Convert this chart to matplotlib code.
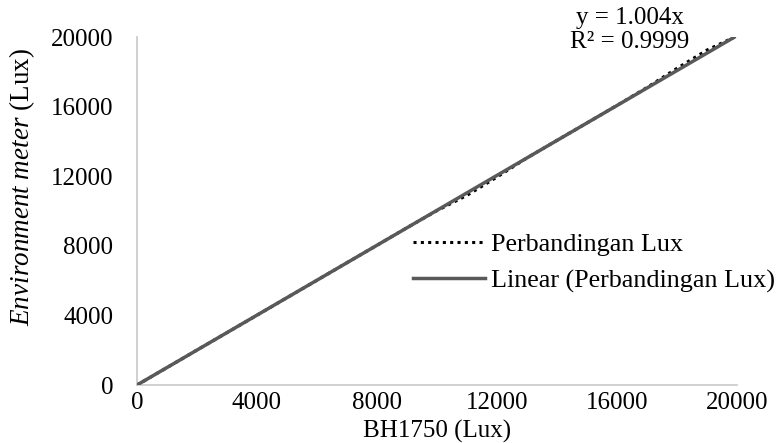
import matplotlib.pyplot as plt
import numpy as np

# measured points (BH1750 vs environment meter), Lux
bh1750 = [0, 1000, 2000, 3000, 4000, 5000, 6000, 7000, 8000, 9000, 10000,
          11000, 12000, 13000, 14000, 15000, 16000, 17000, 18000, 19000, 19900]
env_meter = [0, 1000, 2010, 3010, 4010, 5020, 6020, 7030, 8030, 9040, 10020,
             10900, 11950, 13050, 14060, 15060, 16070, 17100, 18200, 19250, 19980]

slope = 1.004
r2 = 0.9999

plt.rcParams["font.family"] = ["Liberation Serif", "DejaVu Serif"]
plt.rcParams["mathtext.fontset"] = "custom"
plt.rcParams["mathtext.rm"] = "Liberation Serif"
plt.rcParams["mathtext.it"] = "Liberation Serif:italic"
FS = 18

fig = plt.figure(figsize=(7.82, 4.43), dpi=100)
ax = fig.add_axes([137 / 782, (443 - 385) / 443, 600 / 782, 348 / 443])

ax.plot(bh1750, env_meter, color="black", linestyle=(0, (1, 1.4)), linewidth=2.2,
        label="Perbandingan Lux", zorder=2)
xfit = np.array([0, max(bh1750)])
ax.plot(xfit, slope * xfit, color="#595959", linewidth=2.5,
        label="Linear (Perbandingan Lux)", zorder=3)

ax.set_xlim(0, 20000)
ax.set_ylim(0, 20000)
ax.set_xticks(range(0, 20001, 4000))
ax.set_yticks(range(0, 20001, 4000))
ax.tick_params(axis="y", length=0, pad=17, labelsize=FS)
ax.tick_params(axis="x", length=0, pad=5, labelsize=FS)
for s in ["top", "right"]:
    ax.spines[s].set_visible(False)
for s in ["left", "bottom"]:
    ax.spines[s].set_color("#c8c8c8")
    ax.spines[s].set_linewidth(1.2)

ax.set_xlabel("BH1750 (Lux)", fontsize=FS, labelpad=4)
fig.text(22 / 782, (443 - 187) / 443, r"$\it{Environment\ meter}$ (Lux)",
         rotation=90, ha="center", va="center", fontsize=19.5)

fig.text(630 / 782, (443 - 18) / 443, "y = 1.004x", ha="center", va="center",
         fontsize=FS)
fig.text(630 / 782, (443 - 42) / 443, "R² = 0.9999", ha="center", va="center",
         fontsize=FS)

fig.legend(loc="center left", bbox_to_anchor=(413 / 782, (443 - 263) / 443),
           frameon=False, handlelength=2.75, handletextpad=0.25,
           labelspacing=0.5, fontsize=18.8, borderpad=0, borderaxespad=0)

fig.savefig("out.png", dpi=100)
